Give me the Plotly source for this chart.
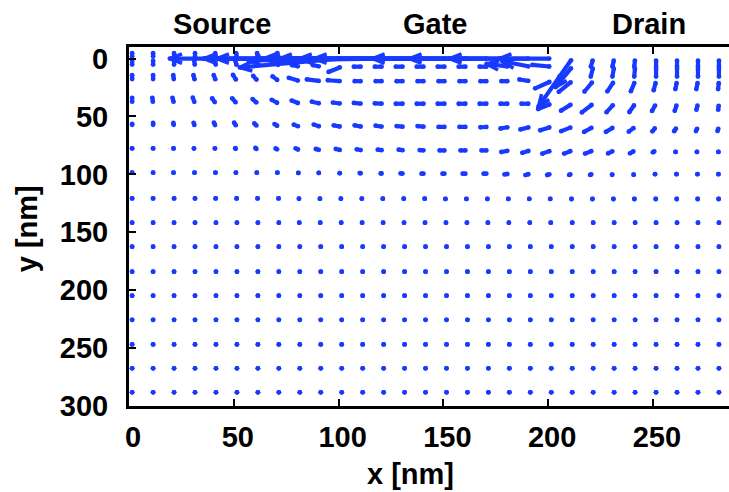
import math
import plotly.graph_objects as go

# ---------------- data (nm) ----------------
x_nm = [1.5, 11.5, 21.5, 31.5, 41.5, 51.5, 61.5, 71.5, 81.5, 91.5,
        101.5, 111.5, 121.5, 131.5, 141.5, 151.5, 161.5, 171.5, 181.5, 191.5,
        201.5, 211.5, 221.5, 231.5, 241.5, 251.5, 261.5, 271.5, 281.5]

y_nm = [0, 7, 19.5, 39, 59, 79.3, 99.4, 121, 141.7, 162.4, 184, 204.7,
        225.6, 246.8, 267.5, 288.2]

# vector components (nm), one list per row of y_nm, one entry per x_nm
u_field = [
    [0, 0, 0, 0, -0.5, -0.5, -0.5, -1, -63, -56.8, -49.6, -70.6, -65.4, -68.2, -70.6,
     -71.1, -74, -56.3, -48.7, -39.6, -25.8, -16.7, -1.4, -1, -0.5, 0, 0, 0, 0],
    [0, 0, 0, -0.5, -0.5, -1, -1, -1.5, -4.8, -4.8, -7.2, -5.2, -5.2, -5.2, -5.2,
     -5.2, -5.2, -5.2, -11.9, -14.3, -10, -8.6, -1.4, -1, -0.5, 0, 0, 0, 0],
    [0, 0, -0.5, -1.0, -1.4, -2.4, -2.9, -3.8, -6.2, -7.6, -7.6, -4.8, -4.8, -4.8, -4.8,
     -4.8, -4.8, -4.8, -4.8, -6.2, -8.6, -7.2, -4.8, -3.8, -2.4, -1.4, -1.0, -1.0, -0.5],
    [0, -0.5, -1.0, -1.4, -2.4, -2.9, -3.3, -4.3, -4.8, -5.2, -5.2, -5.2, -5.2, -5.2, -5.2,
     -5.2, -5.2, -5.2, -5.2, -5.2, -7.2, -6.2, -6.2, -4.3, -3.3, -2.4, -1.4, -1.0, -0.5],
    [0, 0, -0.5, -1.0, -1.4, -1.9, -2.4, -2.9, -3.8, -4.3, -4.8, -4.8, -4.8, -4.8, -4.8,
     -4.8, -4.8, -4.8, -5.2, -5.7, -6.2, -6.2, -5.2, -4.8, -3.8, -2.4, -1.9, -1.4, -1.0],
    [0, 0, -0.5, -1.0, -1.0, -1.4, -1.9, -2.4, -2.9, -3.3, -3.8, -3.8, -3.8, -3.8, -3.8,
     -4.3, -4.3, -4.3, -4.8, -4.8, -5.2, -4.8, -4.8, -3.8, -3.3, -2.4, -1.4, -1.0, -0.5],
    [0, 0, -0.5, -0.5, -0.5, -1.0, -1.0, -1.4, -1.4, -1.9, -1.9, -2.4, -2.4, -2.9, -2.9,
     -2.9, -3.3, -3.3, -3.3, -3.3, -2.9, -2.4, -2.4, -1.9, -1.4, -1.0, -0.5, -0.5, -0.5],
    [0, 0, 0, 0, -0.3, -0.3, -0.3, -0.3, -0.8, -0.8, -0.8, -0.8, -0.8, -0.8, -0.8,
     -1.0, -1.0, -1.0, -1.0, -1.0, -1.0, -0.7, -0.7, -0.7, -0.7, -0.3, -0.3, -0.3, -0.3],
    [0, 0, 0, 0, 0, 0, 0, 0, -0.5, -0.5, -0.5, -0.5, -0.5, -0.5, -0.5,
     -0.5, -0.5, -0.5, -0.5, -0.5, -0.5, 0, 0, 0, 0, 0, 0, 0, 0],
    [0, 0, 0, 0, 0, 0, 0, 0, 0, 0, 0, 0, 0, 0, 0, 0, 0, 0, 0, 0, 0, 0, 0, 0, 0, 0, 0, 0, 0],
    [0, 0, 0, 0, 0, 0, 0, 0, 0, 0, 0, 0, 0, 0, 0, 0, 0, 0, 0, 0, 0, 0, 0, 0, 0, 0, 0, 0, 0],
    [0, 0, 0, 0, 0, 0, 0, 0, 0, 0, 0, 0, 0, 0, 0, 0, 0, 0, 0, 0, 0, 0, 0, 0, 0, 0, 0, 0, 0],
    [0, 0, 0, 0, 0, 0, 0, 0, 0, 0, 0, 0, 0, 0, 0, 0, 0, 0, 0, 0, 0, 0, 0, 0, 0, 0, 0, 0, 0],
    [0, 0, 0, 0, 0, 0, 0, 0, 0, 0, 0, 0, 0, 0, 0, 0, 0, 0, 0, 0, 0, 0, 0, 0, 0, 0, 0, 0, 0],
    [0, 0, 0, 0, 0, 0, 0, 0, 0, 0, 0, 0, 0, 0, 0, 0, 0, 0, 0, 0, 0, 0, 0, 0, 0, 0, 0, 0, 0],
    [0, 0, 0, 0, 0, 0, 0, 0, 0, 0, 0, 0, 0, 0, 0, 0, 0, 0, 0, 0, 0, 0, 0, 0, 0, 0, 0, 0, 0],
]

v_field = [
    [-6.5, -6.5, -6.5, -6.5, -6.5, -6.5, -6.5, -6.5, 0, 0, 7.8, 0, 1.7, 0, 0,
     0, 0, 0, 0, 0, 0, 43, 8.6, 8.6, 8.6, 8.6, 8.6, 8.6, 8.6],
    [-6.9, -6.9, -6.9, -6.9, -6.9, -6.9, -6.9, -6.9, -1.7, -1.7, 5.2, 0, 0, 0, 0,
     0, 0, 0, -2.6, -5.0, -1.7, 19, 10.3, 10.3, 10.3, 10.3, 10.3, 10.3, 10.3],
    [-6.9, -6.9, -6.9, -6.9, -6.9, -6.9, -6.0, -5.2, -3.4, -1.7, -0.9, 0, 0, 0, 0,
     0, 0, 0, 0, -1.7, 6.9, 10.3, 10.3, 10.3, 10.3, 9.5, 8.6, 8.6, 8.6],
    [-6.9, -6.9, -6.9, -6.9, -6.0, -6.0, -5.2, -4.3, -3.4, -2.2, -1.3, -0.9, -0.4, 0, 0,
     0, 0, 0, 0, 0, 5.2, 6.9, 8.6, 8.6, 8.6, 7.8, 7.8, 6.9, 6.9],
    [-4.3, -5.2, -5.2, -5.2, -5.2, -5.2, -4.3, -3.4, -2.6, -2.6, -1.7, -1.7, -1.3, -0.9, -0.9,
     0, 0, 0.4, 1.7, 2.6, 3.4, 4.3, 5.2, 5.2, 5.2, 5.2, 5.2, 5.2, 5.2],
    [-3.4, -3.4, -3.4, -3.4, -3.4, -3.4, -3.4, -2.6, -2.6, -1.7, -1.7, -1.3, -0.9, -0.9, -0.4,
     0, 0, 0, 1.7, 2.6, 3.4, 3.4, 3.4, 3.4, 3.4, 2.6, 2.6, 2.6, 2.6],
    [-1.7, -1.7, -1.7, -1.7, -1.7, -1.7, -1.7, -1.7, -1.3, -1.3, -0.9, -0.9, -0.4, -0.4, 0,
     0, 0, 0, 0.9, 1.7, 1.7, 1.7, 1.7, 1.7, 1.7, 0.9, 0.9, 0.9, 0.9],
    [-0.5, -0.5, -0.5, -0.5, -0.5, -0.5, -0.5, -0.5, 0, 0, 0, 0, 0, 0, 0,
     0.3, 0.3, 0.3, 0.3, 0.3, 0.3, 0.5, 0.5, 0.5, 0.5, 0.5, 0.5, 0.5, 0.5],
    [0, 0, 0, 0, 0, 0, 0, 0, 0, 0, 0, 0, 0, 0, 0, 0, 0, 0, 0, 0, 0, 0, 0, 0, 0, 0, 0, 0, 0],
    [0, 0, 0, 0, 0, 0, 0, 0, 0, 0, 0, 0, 0, 0, 0, 0, 0, 0, 0, 0, 0, 0, 0, 0, 0, 0, 0, 0, 0],
    [0, 0, 0, 0, 0, 0, 0, 0, 0, 0, 0, 0, 0, 0, 0, 0, 0, 0, 0, 0, 0, 0, 0, 0, 0, 0, 0, 0, 0],
    [0, 0, 0, 0, 0, 0, 0, 0, 0, 0, 0, 0, 0, 0, 0, 0, 0, 0, 0, 0, 0, 0, 0, 0, 0, 0, 0, 0, 0],
    [0, 0, 0, 0, 0, 0, 0, 0, 0, 0, 0, 0, 0, 0, 0, 0, 0, 0, 0, 0, 0, 0, 0, 0, 0, 0, 0, 0, 0],
    [0, 0, 0, 0, 0, 0, 0, 0, 0, 0, 0, 0, 0, 0, 0, 0, 0, 0, 0, 0, 0, 0, 0, 0, 0, 0, 0, 0, 0],
    [0, 0, 0, 0, 0, 0, 0, 0, 0, 0, 0, 0, 0, 0, 0, 0, 0, 0, 0, 0, 0, 0, 0, 0, 0, 0, 0, 0, 0],
    [0, 0, 0, 0, 0, 0, 0, 0, 0, 0, 0, 0, 0, 0, 0, 0, 0, 0, 0, 0, 0, 0, 0, 0, 0, 0, 0, 0, 0],
]

x_ticks = [0, 50, 100, 150, 200, 250]
y_ticks = [0, 50, 100, 150, 200, 250, 300]
region_labels = ["Source", "Gate", "Drain"]
region_x = [44.5, 146, 248]

# ---------------- layout geometry ----------------
W, H = 729, 492
ML, MR, MT, MB = 129, 0, 46.5, 86
X_RANGE = [0, 286.3]
Y_RANGE = [300, -10]
PW = W - ML - MR
PH = H - MT - MB
SX = PW / (X_RANGE[1] - X_RANGE[0])          # px per nm (x)
SY = PH / (Y_RANGE[0] - Y_RANGE[1])          # px per nm (y, downwards)

BLUE = "rgb(24,58,255)"
LW = 4.2
CAP = 2.1           # half line width: round caps add this at each end
HEAD_LEN = 13.0
HEAD_ANG = math.radians(21)
HEAD_MIN = 22.0

lx, ly, px_, py_ = [], [], [], []
hx, hy = [], []
for j, yv in enumerate(y_nm):
    for i, xv in enumerate(x_nm):
        u = u_field[j][i]
        v = v_field[j][i]
        dxp, dyp = u * SX, v * SY
        L = math.hypot(dxp, dyp)
        # visual extent (including the round caps) equals the vector length
        if L > 2 * CAP:
            ex, ey = dxp / L, dyp / L
            x0 = xv + CAP * ex / SX
            y0 = yv + CAP * ey / SY
            x1 = xv + u - CAP * ex / SX
            y1 = yv + v - CAP * ey / SY
        else:
            x0 = x1 = xv + u / 2
            y0 = y1 = yv + v / 2
        lx += [x0, x1, None]
        ly += [y0, y1, None]
        px_ += [x0, x1]
        py_ += [y0, y1]
        if L > HEAD_MIN:
            bx, by = -dxp / L, -dyp / L
            wings = []
            for s in (1, -1):
                t = s * HEAD_ANG
                wx = bx * math.cos(t) - by * math.sin(t)
                wy = bx * math.sin(t) + by * math.cos(t)
                wings.append((x1 + HEAD_LEN * wx / SX, y1 + HEAD_LEN * wy / SY))
            hx += [wings[0][0], x1, wings[1][0], None]
            hy += [wings[0][1], y1, wings[1][1], None]

fig = go.Figure()
fig.add_trace(go.Scatter(x=lx, y=ly, mode="lines",
                         line=dict(color=BLUE, width=LW),
                         hoverinfo="skip", showlegend=False))
fig.add_trace(go.Scatter(x=hx, y=hy, mode="lines",
                         line=dict(color=BLUE, width=3.6),
                         hoverinfo="skip", showlegend=False))
fig.add_trace(go.Scatter(x=px_, y=py_, mode="markers",
                         marker=dict(color=BLUE, size=4.8, line=dict(width=0)),
                         hoverinfo="skip", showlegend=False))

FONT = dict(family="Liberation Sans, Arial, Helvetica, sans-serif", size=29,
            color="black", weight="bold")

fig.update_xaxes(range=X_RANGE, tickvals=x_ticks, ticks="inside", ticklen=7,
                 tickwidth=2, tickcolor="black", showline=True, linewidth=3,
                 linecolor="black", mirror="ticks", showgrid=False, zeroline=False,
                 tickfont=FONT, ticklabelstandoff=3, ticklabelshift=4)
fig.update_yaxes(range=Y_RANGE, tickvals=y_ticks, ticks="inside", ticklen=7,
                 tickwidth=2, tickcolor="black", showline=True, linewidth=3,
                 linecolor="black", mirror=False, showgrid=False, zeroline=False,
                 tickfont=FONT, ticklabelstandoff=12)

def pxx(p):
    return (p - ML) / PW

def pyy(p):
    return (H - MB - p) / PH

ann = []
for lab, xv in zip(region_labels, region_x):
    ann.append(dict(text=lab, x=xv, xref="x", y=pyy(23), yref="paper",
                    xanchor="center", yanchor="middle", showarrow=False, font=FONT))
ann.append(dict(text="x [nm]", x=pxx(410), xref="paper", y=pyy(474), yref="paper",
                xanchor="center", yanchor="middle", showarrow=False, font=FONT))
ann.append(dict(text="y [nm]", x=pxx(27), xref="paper", y=pyy(228), yref="paper",
                xanchor="center", yanchor="middle", showarrow=False, font=FONT,
                textangle=-90))

fig.update_layout(width=W, height=H, margin=dict(l=ML, r=MR, t=MT, b=MB, pad=0,
                                                 autoexpand=False),
                  paper_bgcolor="white", plot_bgcolor="white", annotations=ann)

fig.write_html("out.html")
